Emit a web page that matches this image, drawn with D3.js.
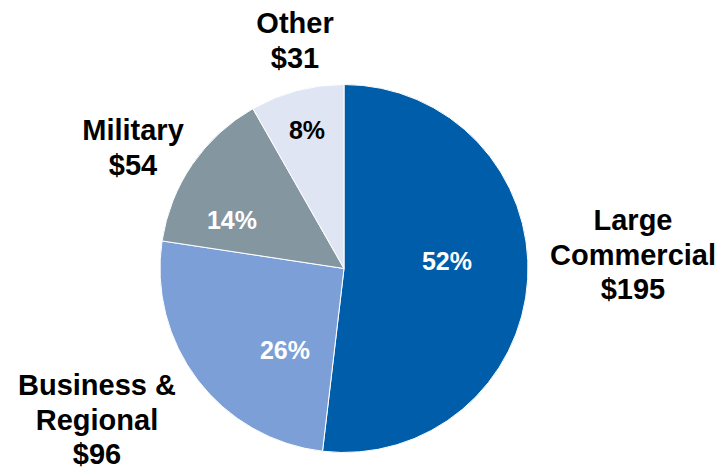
<!DOCTYPE html>
<html>
<head>
<meta charset="utf-8">
<script src="https://cdn.jsdelivr.net/npm/d3@7"></script>
<style>
  html, body { margin: 0; padding: 0; background: #fff; }
  svg text { font-family: "Liberation Sans", Arial, sans-serif; font-weight: bold; }
</style>
</head>
<body>
<svg id="chart" width="721" height="470"></svg>
<script>
// Segment revenue ($), clockwise from 12 o'clock
const categories = ["Large Commercial", "Business & Regional", "Military", "Other"];
const nameLines = [["Large", "Commercial"], ["Business &", "Regional"], ["Military"], ["Other"]];
const values = [195, 96, 54, 31];
const colors = ["#005DA9", "#7C9FD7", "#8497A1", "#DFE5F2"];
const pctColors = ["#ffffff", "#ffffff", "#ffffff", "#000000"];

// Label layout (centre x, first baseline) for outside names and inside percentages
const nameAnchor = [[633, 230], [97, 395], [133, 140], [295, 33]];
const pctAnchor = [[447, 270], [285, 359], [232, 229], [307, 139]];

const svg = d3.select("#chart");
const cx = 344, cy = 268.5, r = 184;
const total = d3.sum(values);

const pie = d3.pie().sort(null).value(d => d)(values);
const arc = d3.arc().innerRadius(0).outerRadius(r);

const g = svg.append("g").attr("transform", `translate(${cx},${cy})`);
g.selectAll("path")
  .data(pie)
  .join("path")
  .attr("d", arc)
  .attr("fill", (d, i) => colors[i])
  .attr("stroke", "#ffffff")
  .attr("stroke-width", 1);

// Percent labels inside the slices
svg.selectAll("text.pct")
  .data(values)
  .join("text")
  .attr("class", "pct")
  .attr("x", (d, i) => pctAnchor[i][0])
  .attr("y", (d, i) => pctAnchor[i][1])
  .attr("text-anchor", "middle")
  .attr("font-size", 25)
  .attr("fill", (d, i) => pctColors[i])
  .text(d => Math.round(d / total * 100) + "%");

// Category names with dollar values outside the pie
const lineGap = 34.5;
categories.forEach((c, i) => {
  const lines = nameLines[i].concat(["$" + values[i]]);
  const t = svg.append("text")
    .attr("class", "name")
    .attr("text-anchor", "middle")
    .attr("font-size", 29)
    .attr("fill", "#000");
  lines.forEach((ln, k) => {
    t.append("tspan")
      .attr("x", nameAnchor[i][0])
      .attr("y", nameAnchor[i][1] + k * lineGap)
      .text(ln);
  });
});
</script>
</body>
</html>
